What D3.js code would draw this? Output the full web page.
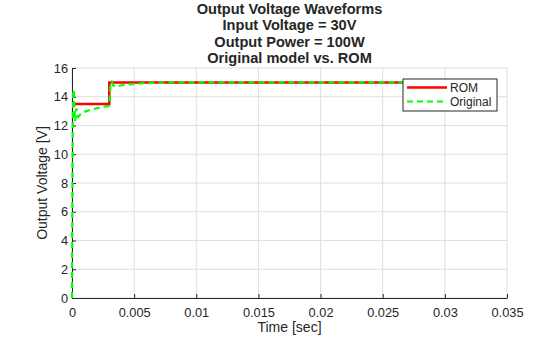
<!DOCTYPE html>
<html><head><meta charset="utf-8">
<script src="https://cdn.jsdelivr.net/npm/d3@7"></script>
<style>body{margin:0;background:#fff}svg{display:block}text{font-family:"Liberation Sans",Arial,sans-serif}</style>
</head><body><svg id="c" width="560" height="337"></svg>
<script>
const titleLines=["Output Voltage Waveforms","Input Voltage = 30V","Output Power = 100W","Original model vs. ROM"];
const xTicks=[0,0.005,0.01,0.015,0.02,0.025,0.03,0.035];
const yTicks=[0,2,4,6,8,10,12,14,16];
const romT=[0,0.003,0.003,0.03];
const romV=[13.5,13.5,15,15];
const origT=[0,0.00003,0.00006,0.0001,0.00015,0.0002,0.00025,0.0003,0.00035,0.0004,0.0005,0.0007,0.001,0.0015,0.002,0.0025,0.0029,0.003,0.00305,0.0031,0.0032,0.0033,0.0035,0.004,0.005,0.006,0.008,0.03];
const origV=[0,6,12,14.5,14.3,13.0,12.3,12.6,13.2,12.8,12.6,12.8,12.95,13.1,13.2,13.3,13.35,13.4,14.2,14.9,15.05,14.8,14.7,14.8,14.9,14.95,15.0,15.0];
const seriesNames=["ROM","Original"];

const svg=d3.select("#c");
const L=72,R=507,T=68,B=298;
const x=d3.scaleLinear().domain([0,0.035]).range([L,R]);
const y=d3.scaleLinear().domain([0,16]).range([B,T]);
const ink="#262626";

// grid
svg.append("g").selectAll("line").data(xTicks).join("line")
 .attr("x1",d=>x(d)).attr("x2",d=>x(d)).attr("y1",T).attr("y2",B).attr("stroke","#dfdfdf");
svg.append("g").selectAll("line").data(yTicks).join("line")
 .attr("y1",d=>y(d)).attr("y2",d=>y(d)).attr("x1",L).attr("x2",R).attr("stroke","#dfdfdf");

// axes
const xa=svg.append("g").attr("transform",`translate(0,${B})`)
 .call(d3.axisBottom(x).tickValues(xTicks).tickFormat(d=>String(+d.toFixed(4))).tickSizeInner(-4).tickSizeOuter(0).tickPadding(10));
const ya=svg.append("g").attr("transform",`translate(${L},0)`)
 .call(d3.axisLeft(y).tickValues(yTicks).tickSizeInner(-4).tickSizeOuter(0).tickPadding(4));
[xa,ya].forEach(a=>{a.select(".domain").attr("stroke",ink);a.selectAll(".tick line").attr("stroke",ink);
 a.selectAll("text").attr("fill",ink).style("font-size","12.8px").style("font-family","'Liberation Sans',Arial,sans-serif");});

// lines
const line=d3.line().x(d=>x(d[0])).y(d=>y(d[1]));
svg.append("path").datum(romT.map((t,i)=>[t,romV[i]])).attr("d",line)
 .attr("fill","none").attr("stroke","#ff0000").attr("stroke-width",2.5);
svg.append("path").datum(origT.map((t,i)=>[t,origV[i]])).attr("d",line)
 .attr("fill","none").attr("stroke","#00ff00").attr("stroke-width",2.2).attr("stroke-dasharray","6,4");

// title
svg.append("g").selectAll("text").data(titleLines).join("text")
 .attr("x",(L+R)/2).attr("y",(d,i)=>13.5+i*16.5).attr("text-anchor","middle")
 .attr("font-weight","bold").attr("font-size","14.6px").attr("fill",ink).text(d=>d);

// axis labels
svg.append("text").attr("x",(L+R)/2).attr("y",332).attr("text-anchor","middle")
 .attr("font-size","14px").attr("fill",ink).text("Time [sec]");
svg.append("text").attr("transform",`translate(46.5,${(T+B)/2}) rotate(-90)`).attr("text-anchor","middle")
 .attr("font-size","14px").attr("fill",ink).text("Output Voltage [V]");

// legend
const lg=svg.append("g").attr("transform","translate(403,79)");
lg.append("rect").attr("width",94).attr("height",32).attr("fill","#fff").attr("stroke",ink).attr("stroke-width",1);
const styles=[{c:"#ff0000",w:2.5,d:null},{c:"#00ff00",w:2.2,d:"6,4"}];
seriesNames.forEach((n,i)=>{
 const yy=8.5+i*14;
 lg.append("line").attr("x1",4).attr("x2",44).attr("y1",yy).attr("y2",yy)
  .attr("stroke",styles[i].c).attr("stroke-width",styles[i].w).attr("stroke-dasharray",styles[i].d);
 lg.append("text").attr("x",47).attr("y",yy+4).attr("font-size","12px").attr("fill",ink).text(n);
});
</script></body></html>
